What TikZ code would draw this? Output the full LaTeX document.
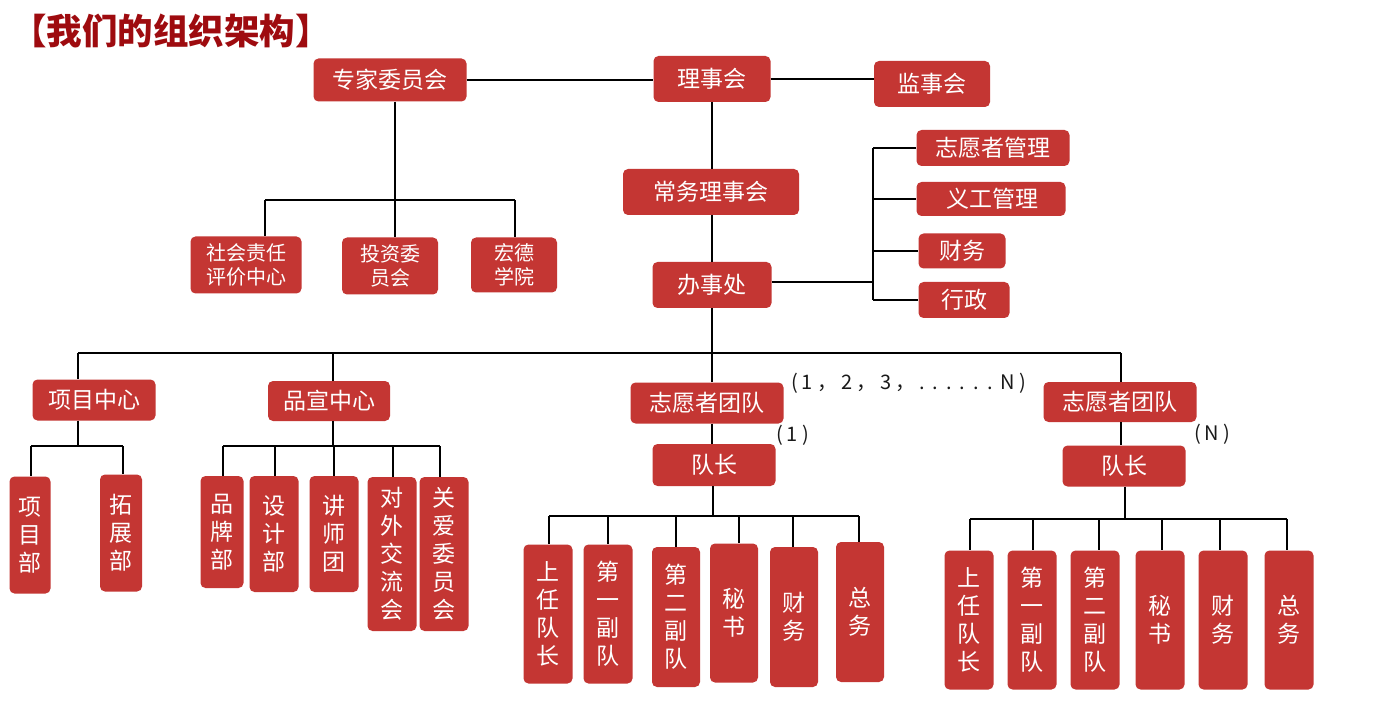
\documentclass[tikz,border=0pt]{standalone}
\usepackage{fontspec}
\setmainfont{Noto Sans CJK SC}
\definecolor{boxred}{HTML}{C43633}
\definecolor{titlered}{HTML}{9E0B0F}
\definecolor{labgray}{HTML}{1A1A1A}
\newcommand\dropto[3]{\coordinate (dd) at (#1,#2); \draw[conn] (dd) -- (dd |- #3.north);}
\newcommand\bx[5]{\node[box,minimum width=#3,minimum height=#4] (#1) at (#2) {#5};}
\newcommand\gA{\hspace{4pt}}
\newcommand\gB{\hspace{8pt}}
\begin{document}
\begin{tikzpicture}[x=1pt,y=-1pt,
  box/.style={fill=boxred, rounded corners=5pt, text=white, inner sep=0pt, align=center, font=\fontsize{23}{28}\selectfont},
  small/.style={font=\fontsize{20}{24}\selectfont},
  conn/.style={line width=1.8pt, black},
  lbl/.style={text=labgray, inner sep=0pt, font=\fontsize{20}{24}\selectfont}]
\useasboundingbox[fill=white] (0,0) rectangle (1386,708);

\node[anchor=west, text=titlered, inner sep=0pt, font=\fontsize{35.5}{36}\selectfont\bfseries] (title) at (11,31) {【我们的组织架构】};

% top level
\bx{zj}{390,80}{153}{43}{专家委员会}
\bx{lsh}{712,79}{117}{46}{理事会}
\bx{jsh}{932,84}{116}{46}{监事会}
\bx{cw}{711,192}{176}{46}{常务理事会}
\bx{bsc}{712,285}{119}{46}{办事处}
\node[box,small,minimum width=111,minimum height=57] (shzr) at (246,265) {社会责任\\评价中心};
\node[box,small,minimum width=96,minimum height=57] (tz) at (390,266) {投资委\\员会};
\node[box,small,minimum width=86,minimum height=55] (hd) at (514,265) {宏德\\学院};
\bx{zyg}{993,148}{153}{36}{志愿者管理}
\bx{ygg}{991,199}{149}{34}{\,义工管理}
\bx{cwr}{962,251}{87}{35}{财务}
\bx{xz}{964,300}{91}{36}{行政}

% second level
\bx{xm}{94,400}{123}{41}{项目中心}
\bx{pxc}{329,401}{122}{40}{品宣中心}
\bx{zt1}{707,403}{153}{41}{志愿者团队}
\bx{zt2}{1120,402}{153}{40}{志愿者团队}
\bx{dz1}{714,465}{123}{42}{队长}
\bx{dz2}{1124,466}{123}{41}{队长}

% vertical boxes
\bx{xmb}{30,535}{41}{117}{项\\目\\部}
\bx{tzb}{121,533}{42}{117}{拓\\展\\部}
\bx{ppb}{222,532}{43}{112}{品\\牌\\部}
\bx{sjb}{274,534}{49}{116}{设\\计\\部}
\bx{jst}{334,534}{49}{116}{讲\\师\\团}
\bx{dwj}{392,554}{49}{154}{对\\外\\交\\流\\会}
\bx{gaw}{444,554}{49}{154}{关\\爱\\委\\员\\会}

\bx{a1}{548,614}{49}{139}{上\\任\\队\\长}
\bx{a2}{608,614}{49}{139}{第\\一\\副\\队}
\bx{a3}{676,617}{48}{140}{第\\二\\副\\队}
\bx{a4}{734,613}{48}{139}{秘\\书}
\bx{a5}{794,617}{48}{140}{财\\务}
\bx{a6}{860,612}{48}{140}{总\\务}

\bx{b1}{969,620}{49}{139}{上\\任\\队\\长}
\bx{b2}{1032,620}{49}{139}{第\\一\\副\\队}
\bx{b3}{1095,620}{49}{139}{第\\二\\副\\队}
\bx{b4}{1160,620}{49}{139}{秘\\书}
\bx{b5}{1223,620}{49}{139}{财\\务}
\bx{b6}{1289,620}{49}{139}{总\\务}

% labels
\node[lbl, anchor=west] (lab1) at (791,383) {(\gA 1\gA ，\gA 2\gA ，\gA 3\gA ，\gA .\gB .\gB .\gB .\gB .\gB .\gB N\gA )};
\node[lbl, anchor=west] (lab2) at (776,435) {(\gA 1\gA )};
\node[lbl, anchor=west] (lab3) at (1194,434) {(\gA N\gA )};

% connectors top
\draw[conn] (zj.east) -- (lsh.west |- zj.east);
\draw[conn] (lsh.east) -- (jsh.west |- lsh.east);
\draw[conn] (lsh.south) -- (lsh.south |- cw.north);
\draw[conn] (cw.south -| bsc) -- (bsc.north);

% expert committee subtree
\coordinate (zjj) at (395,200);
\coordinate (zjl) at (265,200);
\coordinate (zjr) at (515,200);
\draw[conn] (zjj |- zj.south) -- (zjj);
\draw[conn] (zjl) -- (zjr);
\draw[conn] (zjl) -- (zjl |- shzr.north);
\draw[conn] (zjj) -- (zjj |- tz.north);
\draw[conn] (zjr) -- (zjr |- hd.north);

% office right side
\coordinate (rj) at (873,282);
\draw[conn] (bsc.east |- rj) -- (rj);
\draw[conn] (rj |- zyg.west) -- (rj |- xz.west);
\foreach \n in {zyg,ygg,cwr,xz} \draw[conn] (rj |- \n.west) -- (\n.west);

% office bottom bus
\coordinate (bj) at (712,353);
\coordinate (bl) at (78,353);
\coordinate (bm) at (333,353);
\coordinate (br) at (1121,353);
\draw[conn] (bsc.south) -- (bj);
\draw[conn] (bl) -- (br);
\draw[conn] (bl) -- (bl |- xm.north);
\draw[conn] (bm) -- (bm |- pxc.north);
\draw[conn] (bj) -- (bj |- zt1.north);
\draw[conn] (br) -- (br |- zt2.north);

% project centre
\coordinate (xj) at (78,446);
\coordinate (xl) at (31,446);
\coordinate (xr) at (123,446);
\draw[conn] (xj |- xm.south) -- (xj);
\draw[conn] (xl) -- (xr);
\dropto{31}{446}{xmb}
\dropto{123}{446}{tzb}

% publicity centre
\coordinate (pj) at (333,446);
\coordinate (pl) at (223,446);
\coordinate (pr) at (440,446);
\draw[conn] (pj |- pxc.south) -- (pj);
\draw[conn] (pl) -- (pr);
\dropto{223}{446}{ppb}
\dropto{275}{446}{sjb}
\dropto{334}{446}{jst}
\dropto{393}{446}{dwj}
\dropto{440}{446}{gaw}

% team 1
\draw[conn] (bj |- zt1.south) -- (bj |- dz1.north);
\coordinate (t1j) at (713,516);
\coordinate (t1l) at (549,516);
\coordinate (t1r) at (859,516);
\draw[conn] (t1j |- dz1.south) -- (t1j);
\draw[conn] (t1l) -- (t1r);
\dropto{549}{516}{a1}
\dropto{608}{516}{a2}
\dropto{676}{516}{a3}
\dropto{739}{516}{a4}
\dropto{793}{516}{a5}
\dropto{859}{516}{a6}

% team N
\draw[conn] (br |- zt2.south) -- (br |- dz2.north);
\coordinate (t2j) at (1125,519);
\coordinate (t2l) at (970,519);
\coordinate (t2r) at (1287,519);
\draw[conn] (t2j |- dz2.south) -- (t2j);
\draw[conn] (t2l) -- (t2r);
\dropto{970}{519}{b1}
\dropto{1033}{519}{b2}
\dropto{1099}{519}{b3}
\dropto{1162}{519}{b4}
\dropto{1220}{519}{b5}
\dropto{1287}{519}{b6}
\end{tikzpicture}
\end{document}
